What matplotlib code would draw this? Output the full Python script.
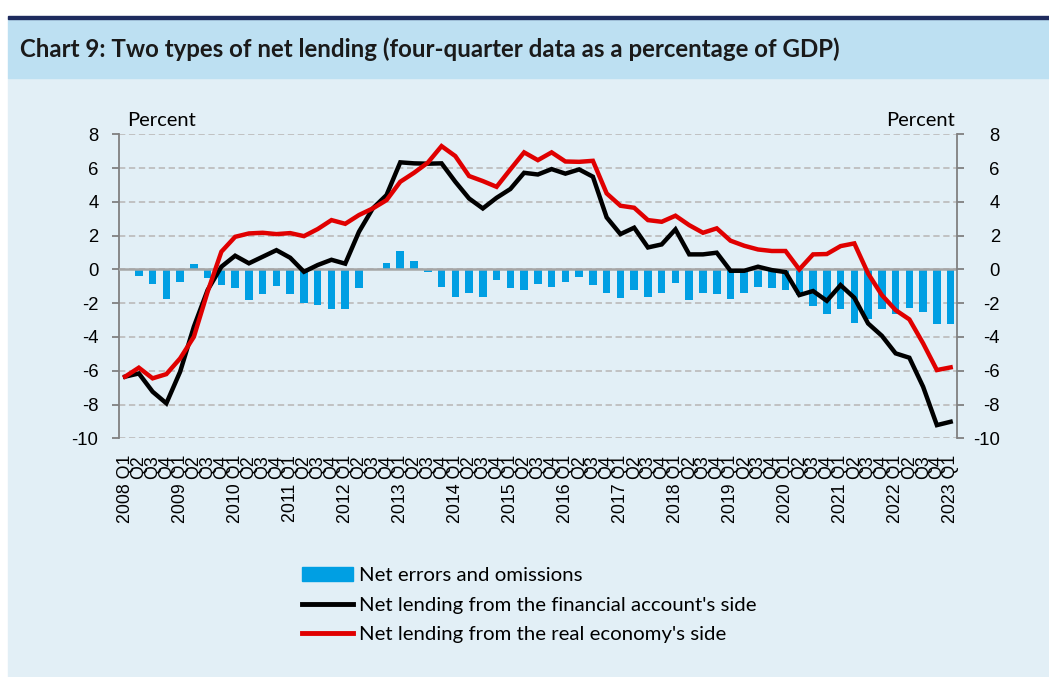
import numpy as np
import matplotlib.pyplot as plt
from matplotlib.patches import Rectangle
from matplotlib.lines import Line2D

plt.rcParams['axes.unicode_minus'] = False

# quarter labels 2008 Q1 .. 2023 Q1
quarter_labels = []
for yr in range(2008, 2023):
    quarter_labels += [f"{yr} Q1", "Q2", "Q3", "Q4"]
quarter_labels.append("2023 Q1")

# net errors and omissions (bars)
errors = [0.0, -0.37, -0.87, -1.74, -0.73, 0.32, -0.49, -0.91,
          -1.09, -1.80, -1.48, -0.99, -1.46, -2.01, -2.13, -2.35,
          -2.37, -1.12, 0.0, 0.36, 1.10, 0.49, -0.14, -1.03,
          -1.66, -1.38, -1.62, -0.63, -1.12, -1.22, -0.89, -1.03,
          -0.73, -0.43, -0.93, -1.42, -1.68, -1.22, -1.64, -1.38,
          -0.83, -1.84, -1.38, -1.46, -1.76, -1.42, -1.07, -1.10,
          -1.23, -1.50, -2.17, -2.64, -2.32, -3.18, -2.96, -2.37,
          -2.62, -2.26, -2.54, -3.25, -3.22]

# net lending, financial account side (black)
financial = [-6.35, -6.16, -7.24, -7.93, -6.06, -3.39, -1.22, 0.16,
             0.81, 0.36, 0.75, 1.14, 0.69, -0.14, 0.26, 0.57,
             0.34, 2.23, 3.61, 4.40, 6.34, 6.28, 6.26, 6.28,
             5.19, 4.20, 3.61, 4.24, 4.76, 5.72, 5.62, 5.94,
             5.67, 5.92, 5.49, 3.08, 2.09, 2.47, 1.30, 1.48,
             2.37, 0.89, 0.89, 0.99, -0.08, -0.08, 0.16, -0.04,
             -0.16, -1.52, -1.28, -1.86, -0.93, -1.68, -3.20, -3.93,
             -4.97, -5.23, -6.95, -9.22, -9.02]

# net lending, real economy side (red)
real = [-6.35, -5.82, -6.45, -6.20, -5.27, -3.99, -1.32, 1.05,
        1.93, 2.13, 2.17, 2.09, 2.15, 1.97, 2.39, 2.92,
        2.70, 3.22, 3.61, 4.10, 5.19, 5.72, 6.32, 7.30,
        6.71, 5.53, 5.23, 4.89, 5.92, 6.93, 6.47, 6.93,
        6.39, 6.37, 6.43, 4.50, 3.77, 3.65, 2.92, 2.82,
        3.18, 2.62, 2.17, 2.43, 1.70, 1.40, 1.18, 1.09,
        1.09, 0.00, 0.89, 0.91, 1.38, 1.54, -0.24, -1.52,
        -2.41, -2.96, -4.38, -5.96, -5.80]

yticks = list(range(-10, 10, 2))

W, H = 1049, 677
bg = '#E2EFF6'
header = '#BDE0F2'
navy = '#1E2B5E'
bar_c = '#009FE3'
red_c = '#E00000'
txt_font = 'Lato'
num_font = 'Liberation Sans'

fig = plt.figure(figsize=(W / 100, H / 100), dpi=100)
fig.patches.append(Rectangle((8 / W, 0), 1, 1 - 78 / H, transform=fig.transFigure,
                             color=bg, zorder=-3))
fig.patches.append(Rectangle((8 / W, 1 - 78 / H), 1, 60 / H, transform=fig.transFigure,
                             color=header, zorder=-3))
fig.patches.append(Rectangle((8 / W, 1 - 18.5 / H), 1, 3 / H, transform=fig.transFigure,
                             color=navy, zorder=-2))
fig.text(20 / W, 1 - 49 / H,
         'Chart 9: Two types of net lending (four-quarter data as a percentage of GDP)',
         fontsize=17.3, fontweight='bold', family=txt_font, color='#1A1A1A', va='center')

ax = fig.add_axes([119.3 / W, 1 - 438.3 / H, (956.7 - 119.3) / W, 304 / H])
ax.patch.set_visible(False)
x = np.arange(len(quarter_labels))

ax.bar(x, errors, width=0.55, color=bar_c, zorder=2)
ax.axhline(0, color='#A6A6A6', lw=1.8, zorder=3)
ax.plot(x, financial, color='black', lw=3.2, zorder=4, solid_joinstyle='miter')
ax.plot(x, real, color=red_c, lw=3.2, zorder=5, solid_joinstyle='miter')

ax.set_xlim(-0.42, len(x) - 1 + 0.44)
ax.set_ylim(-10, 8)
ax.set_yticks(yticks)
ax.set_yticklabels([str(v) for v in yticks], family=num_font, fontsize=13.3)
ax.set_axisbelow(True)
ax.yaxis.grid(True, color='#BEBEBE', lw=1.3, linestyle=(0, (3.5, 2)))
ax.set_xticks(x)
ax.set_xticklabels(quarter_labels, rotation=90, family=num_font, fontsize=12.8,
                   va='top', ha='center')
ax.tick_params(axis='x', length=0, pad=12)
ax.tick_params(axis='y', length=5, width=1.3, color='#808080', pad=10)
for s in ['top', 'bottom', 'right']:
    ax.spines[s].set_visible(False)
ax.spines['left'].set_color('#808080')
ax.spines['left'].set_linewidth(1.3)

ax2 = ax.twinx()
ax2.set_ylim(-10, 8)
ax2.set_yticks(yticks)
ax2.set_yticklabels([str(v) for v in yticks], family=num_font, fontsize=13.3)
ax2.tick_params(axis='y', length=5, width=1.3, color='#808080', pad=26)
for t in ax2.get_yticklabels():
    t.set_horizontalalignment('right')
for s in ['top', 'bottom', 'left']:
    ax2.spines[s].set_visible(False)
ax2.spines['right'].set_color('#808080')
ax2.spines['right'].set_linewidth(1.3)

fig.text(127 / W, 1 - 120 / H, 'Percent', family=txt_font, fontsize=14.5, va='center')
fig.text(955 / W, 1 - 120 / H, 'Percent', family=txt_font, fontsize=14.5, va='center',
         ha='right')

handles = [Rectangle((0, 0), 1, 1, color=bar_c),
           Line2D([], [], color='black', lw=3.5),
           Line2D([], [], color=red_c, lw=3.5)]
names = ['Net errors and omissions',
         "Net lending from the financial account's side",
         "Net lending from the real economy's side"]
fig.legend(handles, names, loc='upper left', bbox_to_anchor=(302 / W, 1 - 567 / H),
           frameon=False, borderpad=0, borderaxespad=0, handlelength=2.5,
           handletextpad=0.3, labelspacing=0.6,
           prop={'family': txt_font, 'size': 14.7})

fig.savefig('out.png', dpi=100)
